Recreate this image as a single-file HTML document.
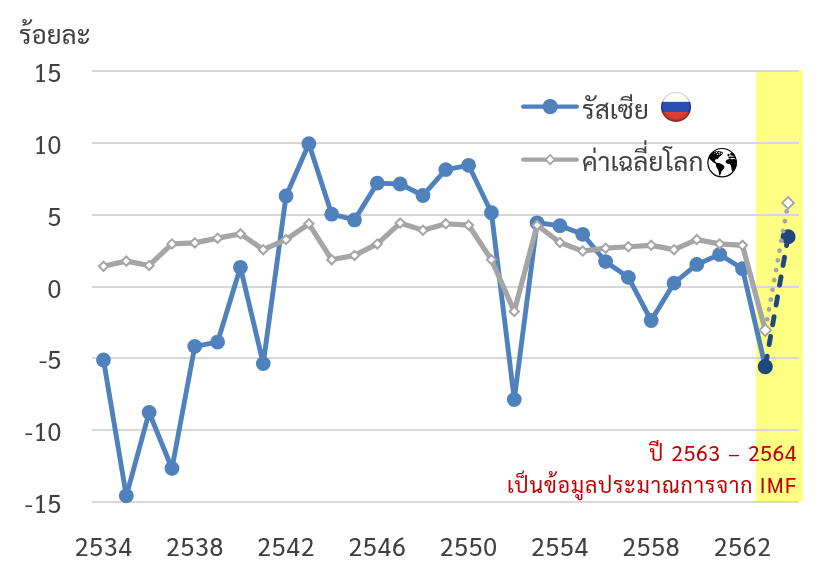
<!DOCTYPE html>
<html lang="th"><head><meta charset="utf-8"><title>chart</title>
<style>html,body{margin:0;padding:0;background:#fff}body{width:827px;height:568px;overflow:hidden}</style></head>
<body>
<svg width="827" height="568" viewBox="0 0 827 568" style="display:block">
<rect width="827" height="568" fill="#fff"/>
<rect x="756" y="70" width="47" height="431" fill="#FFFF84"/>
<rect x="92" y="70" width="707" height="2" fill="#D7D7D7"/>
<rect x="92" y="142" width="707" height="2" fill="#D7D7D7"/>
<rect x="92" y="214" width="707" height="2" fill="#D7D7D7"/>
<rect x="92" y="286" width="707" height="2" fill="#D7D7D7"/>
<rect x="92" y="357" width="707" height="2" fill="#D7D7D7"/>
<rect x="92" y="429" width="707" height="2" fill="#D7D7D7"/>
<rect x="92" y="501" width="707" height="2" fill="#D7D7D7"/>
<text x="61.7" y="81.90" text-anchor="end" font-size="25" letter-spacing="0.4" fill="#404040" style="font-family:Sarabun,'Liberation Sans','Noto Sans Thai',sans-serif">15</text>
<text x="61.7" y="153.90" text-anchor="end" font-size="25" letter-spacing="0.4" fill="#404040" style="font-family:Sarabun,'Liberation Sans','Noto Sans Thai',sans-serif">10</text>
<text x="61.7" y="225.90" text-anchor="end" font-size="25" letter-spacing="0.4" fill="#404040" style="font-family:Sarabun,'Liberation Sans','Noto Sans Thai',sans-serif">5</text>
<text x="61.7" y="297.90" text-anchor="end" font-size="25" letter-spacing="0.4" fill="#404040" style="font-family:Sarabun,'Liberation Sans','Noto Sans Thai',sans-serif">0</text>
<text x="61.7" y="368.90" text-anchor="end" font-size="25" letter-spacing="0.4" fill="#404040" style="font-family:Sarabun,'Liberation Sans','Noto Sans Thai',sans-serif">-5</text>
<text x="61.7" y="440.90" text-anchor="end" font-size="25" letter-spacing="0.4" fill="#404040" style="font-family:Sarabun,'Liberation Sans','Noto Sans Thai',sans-serif">-10</text>
<text x="61.7" y="512.90" text-anchor="end" font-size="25" letter-spacing="0.4" fill="#404040" style="font-family:Sarabun,'Liberation Sans','Noto Sans Thai',sans-serif">-15</text>
<text x="103.70" y="555.5" text-anchor="middle" font-size="25" letter-spacing="0.75" fill="#404040" style="font-family:Sarabun,'Liberation Sans','Noto Sans Thai',sans-serif">2534</text>
<text x="194.98" y="555.5" text-anchor="middle" font-size="25" letter-spacing="0.75" fill="#404040" style="font-family:Sarabun,'Liberation Sans','Noto Sans Thai',sans-serif">2538</text>
<text x="286.26" y="555.5" text-anchor="middle" font-size="25" letter-spacing="0.75" fill="#404040" style="font-family:Sarabun,'Liberation Sans','Noto Sans Thai',sans-serif">2542</text>
<text x="377.54" y="555.5" text-anchor="middle" font-size="25" letter-spacing="0.75" fill="#404040" style="font-family:Sarabun,'Liberation Sans','Noto Sans Thai',sans-serif">2546</text>
<text x="468.82" y="555.5" text-anchor="middle" font-size="25" letter-spacing="0.75" fill="#404040" style="font-family:Sarabun,'Liberation Sans','Noto Sans Thai',sans-serif">2550</text>
<text x="560.10" y="555.5" text-anchor="middle" font-size="25" letter-spacing="0.75" fill="#404040" style="font-family:Sarabun,'Liberation Sans','Noto Sans Thai',sans-serif">2554</text>
<text x="651.38" y="555.5" text-anchor="middle" font-size="25" letter-spacing="0.75" fill="#404040" style="font-family:Sarabun,'Liberation Sans','Noto Sans Thai',sans-serif">2558</text>
<text x="742.66" y="555.5" text-anchor="middle" font-size="25" letter-spacing="0.75" fill="#404040" style="font-family:Sarabun,'Liberation Sans','Noto Sans Thai',sans-serif">2562</text>
<text x="18.9" y="43.6" font-size="26" fill="#404040" style="font-family:Sarabun,'Liberation Sans','Noto Sans Thai',sans-serif">ร้อยละ</text>
<polyline points="103.50,360.02 126.32,495.81 149.14,412.47 171.96,468.51 194.78,346.37 217.60,342.06 240.42,267.33 263.24,363.61 286.06,195.91 308.88,143.75 331.70,214.16 354.52,219.91 377.34,183.12 400.16,183.99 422.98,195.48 445.80,169.62 468.62,165.31 491.44,212.73 514.26,399.54 537.08,222.78 559.90,225.66 582.72,234.28 605.54,261.58 628.36,277.39 651.18,320.50 674.00,283.14 696.82,264.46 719.64,254.40 742.46,268.77 765.28,366.65" fill="none" stroke="#4F81BD" stroke-width="4.9" stroke-linejoin="round" stroke-linecap="round"/>
<circle cx="103.50" cy="360.02" r="7.4" fill="#4F81BD"/>
<circle cx="126.32" cy="495.81" r="7.4" fill="#4F81BD"/>
<circle cx="149.14" cy="412.47" r="7.4" fill="#4F81BD"/>
<circle cx="171.96" cy="468.51" r="7.4" fill="#4F81BD"/>
<circle cx="194.78" cy="346.37" r="7.4" fill="#4F81BD"/>
<circle cx="217.60" cy="342.06" r="7.4" fill="#4F81BD"/>
<circle cx="240.42" cy="267.33" r="7.4" fill="#4F81BD"/>
<circle cx="263.24" cy="363.61" r="7.4" fill="#4F81BD"/>
<circle cx="286.06" cy="195.91" r="7.4" fill="#4F81BD"/>
<circle cx="308.88" cy="143.75" r="7.4" fill="#4F81BD"/>
<circle cx="331.70" cy="214.16" r="7.4" fill="#4F81BD"/>
<circle cx="354.52" cy="219.91" r="7.4" fill="#4F81BD"/>
<circle cx="377.34" cy="183.12" r="7.4" fill="#4F81BD"/>
<circle cx="400.16" cy="183.99" r="7.4" fill="#4F81BD"/>
<circle cx="422.98" cy="195.48" r="7.4" fill="#4F81BD"/>
<circle cx="445.80" cy="169.62" r="7.4" fill="#4F81BD"/>
<circle cx="468.62" cy="165.31" r="7.4" fill="#4F81BD"/>
<circle cx="491.44" cy="212.73" r="7.4" fill="#4F81BD"/>
<circle cx="514.26" cy="399.54" r="7.4" fill="#4F81BD"/>
<circle cx="537.08" cy="222.78" r="7.4" fill="#4F81BD"/>
<circle cx="559.90" cy="225.66" r="7.4" fill="#4F81BD"/>
<circle cx="582.72" cy="234.28" r="7.4" fill="#4F81BD"/>
<circle cx="605.54" cy="261.58" r="7.4" fill="#4F81BD"/>
<circle cx="628.36" cy="277.39" r="7.4" fill="#4F81BD"/>
<circle cx="651.18" cy="320.50" r="7.4" fill="#4F81BD"/>
<circle cx="674.00" cy="283.14" r="7.4" fill="#4F81BD"/>
<circle cx="696.82" cy="264.46" r="7.4" fill="#4F81BD"/>
<circle cx="719.64" cy="254.40" r="7.4" fill="#4F81BD"/>
<circle cx="742.46" cy="268.77" r="7.4" fill="#4F81BD"/>
<line x1="765.28" y1="366.65" x2="788.10" y2="236.70" stroke="#1F497D" stroke-width="4.9" stroke-linecap="round" stroke-dasharray="8.3 11.8" stroke-dashoffset="-2.3"/>
<circle cx="765.28" cy="366.65" r="7.5" fill="#1F497D"/>
<circle cx="788.10" cy="236.70" r="7.5" fill="#1F497D"/>
<polyline points="103.50,266.31 126.32,261.13 149.14,265.44 171.96,243.89 194.78,242.88 217.60,238.14 240.42,233.83 263.24,249.64 286.06,239.58 308.88,223.77 331.70,259.70 354.52,255.39 377.34,243.89 400.16,223.05 422.98,230.24 445.80,223.77 468.62,225.21 491.44,259.70 514.26,311.43 537.08,225.21 559.90,242.45 582.72,251.07 605.54,248.20 628.36,246.76 651.18,245.33 674.00,249.64 696.82,239.58 719.64,243.89 742.46,245.33 765.28,330.20" fill="none" stroke="#A5A5A5" stroke-width="5.2" stroke-linejoin="round" stroke-linecap="round"/>
<line x1="765.28" y1="330.20" x2="788.10" y2="202.94" stroke="#A5A5A5" stroke-width="4.7" stroke-linecap="round" stroke-dasharray="0.01 9.95" stroke-dashoffset="-1.2"/>
<path d="M98.90,266.31 L103.50,261.71 L108.10,266.31 L103.50,270.91Z" fill="#fff" stroke="#A5A5A5" stroke-width="2.0"/>
<path d="M121.72,261.13 L126.32,256.53 L130.92,261.13 L126.32,265.73Z" fill="#fff" stroke="#A5A5A5" stroke-width="2.0"/>
<path d="M144.54,265.44 L149.14,260.84 L153.74,265.44 L149.14,270.05Z" fill="#fff" stroke="#A5A5A5" stroke-width="2.0"/>
<path d="M167.36,243.89 L171.96,239.29 L176.56,243.89 L171.96,248.49Z" fill="#fff" stroke="#A5A5A5" stroke-width="2.0"/>
<path d="M190.18,242.88 L194.78,238.28 L199.38,242.88 L194.78,247.48Z" fill="#fff" stroke="#A5A5A5" stroke-width="2.0"/>
<path d="M213.00,238.14 L217.60,233.54 L222.20,238.14 L217.60,242.74Z" fill="#fff" stroke="#A5A5A5" stroke-width="2.0"/>
<path d="M235.82,233.83 L240.42,229.23 L245.02,233.83 L240.42,238.43Z" fill="#fff" stroke="#A5A5A5" stroke-width="2.0"/>
<path d="M258.64,249.64 L263.24,245.04 L267.84,249.64 L263.24,254.24Z" fill="#fff" stroke="#A5A5A5" stroke-width="2.0"/>
<path d="M281.46,239.58 L286.06,234.98 L290.66,239.58 L286.06,244.18Z" fill="#fff" stroke="#A5A5A5" stroke-width="2.0"/>
<path d="M304.28,223.77 L308.88,219.17 L313.48,223.77 L308.88,228.37Z" fill="#fff" stroke="#A5A5A5" stroke-width="2.0"/>
<path d="M327.10,259.70 L331.70,255.10 L336.30,259.70 L331.70,264.30Z" fill="#fff" stroke="#A5A5A5" stroke-width="2.0"/>
<path d="M349.92,255.39 L354.52,250.79 L359.12,255.39 L354.52,259.99Z" fill="#fff" stroke="#A5A5A5" stroke-width="2.0"/>
<path d="M372.74,243.89 L377.34,239.29 L381.94,243.89 L377.34,248.49Z" fill="#fff" stroke="#A5A5A5" stroke-width="2.0"/>
<path d="M395.56,223.05 L400.16,218.45 L404.76,223.05 L400.16,227.65Z" fill="#fff" stroke="#A5A5A5" stroke-width="2.0"/>
<path d="M418.38,230.24 L422.98,225.64 L427.58,230.24 L422.98,234.84Z" fill="#fff" stroke="#A5A5A5" stroke-width="2.0"/>
<path d="M441.20,223.77 L445.80,219.17 L450.40,223.77 L445.80,228.37Z" fill="#fff" stroke="#A5A5A5" stroke-width="2.0"/>
<path d="M464.02,225.21 L468.62,220.61 L473.22,225.21 L468.62,229.81Z" fill="#fff" stroke="#A5A5A5" stroke-width="2.0"/>
<path d="M486.84,259.70 L491.44,255.10 L496.04,259.70 L491.44,264.30Z" fill="#fff" stroke="#A5A5A5" stroke-width="2.0"/>
<path d="M509.66,311.43 L514.26,306.83 L518.86,311.43 L514.26,316.03Z" fill="#fff" stroke="#A5A5A5" stroke-width="2.0"/>
<path d="M532.48,225.21 L537.08,220.61 L541.68,225.21 L537.08,229.81Z" fill="#fff" stroke="#A5A5A5" stroke-width="2.0"/>
<path d="M555.30,242.45 L559.90,237.85 L564.50,242.45 L559.90,247.05Z" fill="#fff" stroke="#A5A5A5" stroke-width="2.0"/>
<path d="M578.12,251.07 L582.72,246.47 L587.32,251.07 L582.72,255.67Z" fill="#fff" stroke="#A5A5A5" stroke-width="2.0"/>
<path d="M600.94,248.20 L605.54,243.60 L610.14,248.20 L605.54,252.80Z" fill="#fff" stroke="#A5A5A5" stroke-width="2.0"/>
<path d="M623.76,246.76 L628.36,242.16 L632.96,246.76 L628.36,251.36Z" fill="#fff" stroke="#A5A5A5" stroke-width="2.0"/>
<path d="M646.58,245.33 L651.18,240.73 L655.78,245.33 L651.18,249.93Z" fill="#fff" stroke="#A5A5A5" stroke-width="2.0"/>
<path d="M669.40,249.64 L674.00,245.04 L678.60,249.64 L674.00,254.24Z" fill="#fff" stroke="#A5A5A5" stroke-width="2.0"/>
<path d="M692.22,239.58 L696.82,234.98 L701.42,239.58 L696.82,244.18Z" fill="#fff" stroke="#A5A5A5" stroke-width="2.0"/>
<path d="M715.04,243.89 L719.64,239.29 L724.24,243.89 L719.64,248.49Z" fill="#fff" stroke="#A5A5A5" stroke-width="2.0"/>
<path d="M737.86,245.33 L742.46,240.73 L747.06,245.33 L742.46,249.93Z" fill="#fff" stroke="#A5A5A5" stroke-width="2.0"/>
<path d="M759.48,330.20 L765.28,324.40 L771.08,330.20 L765.28,336.00Z" fill="#fff" stroke="#A5A5A5" stroke-width="1.9"/>
<path d="M782.30,202.94 L788.10,197.14 L793.90,202.94 L788.10,208.74Z" fill="#fff" stroke="#A5A5A5" stroke-width="1.9"/>
<line x1="523.2" x2="576.8" y1="106.6" y2="106.6" stroke="#4F81BD" stroke-width="4.4" stroke-linecap="round"/>
<circle cx="550.2" cy="106.6" r="7.7" fill="#4F81BD"/>
<line x1="523.2" x2="576.8" y1="159.6" y2="159.6" stroke="#A5A5A5" stroke-width="4.4" stroke-linecap="round"/>
<path d="M545.60,159.60 L550.20,155.00 L554.80,159.60 L550.20,164.20Z" fill="#fff" stroke="#A5A5A5" stroke-width="1.7"/>
<text x="582" y="118.9" font-size="26.1" fill="#404040" style="font-family:Sarabun,'Liberation Sans','Noto Sans Thai',sans-serif">รัสเซีย</text>
<text x="582" y="171.2" font-size="26.1" fill="#404040" style="font-family:Sarabun,'Liberation Sans','Noto Sans Thai',sans-serif">ค่าเฉลี่ยโลก</text>
<defs><clipPath id="fc"><circle cx="676" cy="107" r="15"/></clipPath>
<radialGradient id="fg" cx="50%" cy="45%" r="52%"><stop offset="0.78" stop-color="#000" stop-opacity="0"/><stop offset="1" stop-color="#000" stop-opacity="0.3"/></radialGradient></defs>
<g clip-path="url(#fc)"><rect x="660" y="91" width="32" height="10.8" fill="#fff"/><rect x="660" y="101.8" width="32" height="10.2" fill="#2A4FB3"/><rect x="660" y="112" width="32" height="11" fill="#DB4033"/></g>
<circle cx="676" cy="107" r="15" fill="url(#fg)"/><circle cx="676" cy="107" r="14.6" fill="none" stroke="#000" stroke-opacity="0.12" stroke-width="0.9"/>
<g transform="translate(700,140) scale(0.07924)">
<circle cx="279" cy="286.5" r="179" fill="#fff" stroke="#000" stroke-width="15"/>
<path fill="#000" d="M120,204 L135,180 L155,160 L176,147 L200,142 L214,144 L235,140 L262,146 L284,152 L290,165 L284,178 L265,195 L245,212 L232,228 L226,240 L216,244 L205,240 L192,250 L186,264 L196,276 L212,290 L214,300 L204,302 L186,294 L160,274 L138,257 L118,236 L108,226 Z"/>
<path fill="#fff" d="M198,152 L214,150 L218,162 L204,166 Z M228,150 L252,150 L254,160 L232,162 Z M260,158 L274,160 L278,174 L264,176 Z M236,170 L250,170 L252,184 L238,186 Z M212,176 L226,176 L226,188 L214,190 Z M180,166 L192,164 L194,176 L182,178 Z"/>
<path fill="#000" d="M203,300 L222,288 L252,293 L282,310 L308,328 L303,355 L286,380 L270,396 L264,422 L252,449 L240,444 L237,410 L230,380 L213,352 L200,325 Z"/>
<path fill="#000" d="M344,186 L358,174 L374,182 L372,200 L360,208 L348,202 Z M380,174 L398,160 L420,166 L436,184 L430,198 L412,200 L394,196 L384,188 Z M356,218 L378,208 L400,212 L424,206 L448,218 L456,232 L430,229 L404,227 L384,232 L364,232 Z"/>
<path fill="#000" d="M324,266 L338,248 L372,240 L400,244 L420,240 L446,242 L461,252 L466,290 L458,335 L440,372 L420,386 L408,404 L400,382 L396,350 L390,322 L374,302 L346,300 L326,286 Z"/>
</g>
<text x="797.1" y="461.4" text-anchor="end" font-size="21.3" letter-spacing="0.58" word-spacing="1.9" fill="#C00000" style="font-family:Sarabun,'Liberation Sans','Noto Sans Thai',sans-serif">ปี 2563 – 2564</text>
<text x="797.3" y="493" text-anchor="end" font-size="21.3" letter-spacing="0.93" fill="#C00000" style="font-family:Sarabun,'Liberation Sans','Noto Sans Thai',sans-serif">เป็นข้อมูลประมาณการจาก IMF</text>
</svg>
</body></html>
